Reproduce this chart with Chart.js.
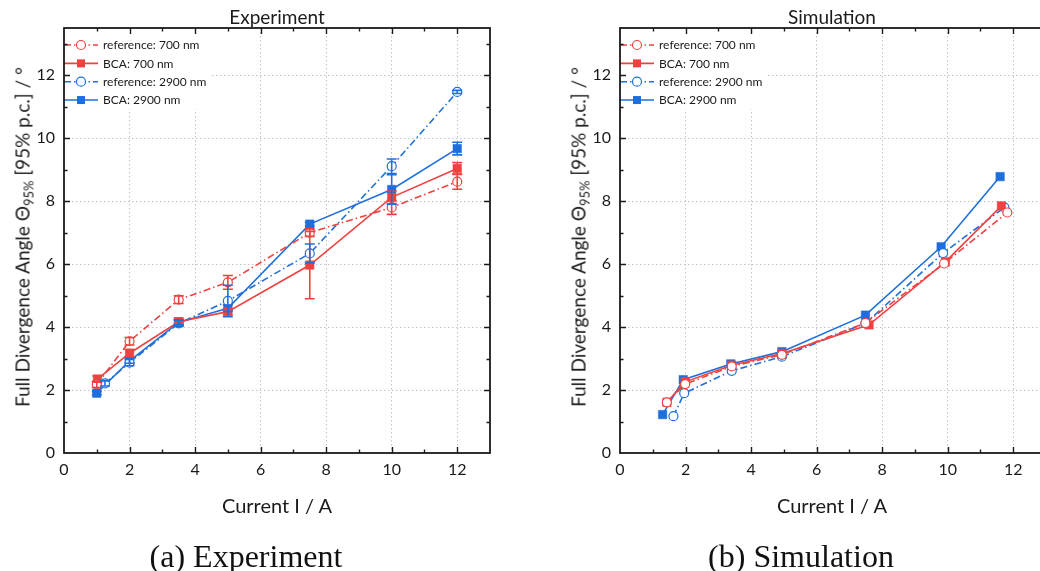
<!DOCTYPE html>
<html><head><meta charset="utf-8">
<script src="https://cdn.jsdelivr.net/npm/chart.js@4.4.1/dist/chart.umd.min.js"></script>
<style>
html,body{margin:0;padding:0;width:1040px;height:571px;overflow:hidden;background:#fff;}
body{position:relative;font-family:Lato,"Noto Sans",sans-serif;color:#1a1a1a;}
canvas{position:absolute;top:0;}
.t{position:absolute;transform:translate(-50%,-50%);white-space:nowrap;line-height:1;}
.title{font-size:19px;}
.xl{font-size:20px;}
.yl{font-size:19px;transform:translate(-50%,-50%) rotate(-90deg);}
.yl sub{font-size:68%;vertical-align:-0.3em;line-height:0;}
.cap{font-family:"Liberation Serif","DejaVu Serif",serif;font-size:32px;color:#111;}
</style></head>
<body>
<canvas id="c1" width="520" height="500" style="left:0;width:520px;height:500px"></canvas>
<canvas id="c2" width="520" height="500" style="left:556px;width:520px;height:500px"></canvas>
<div class="t title" style="left:277px;top:16px">Experiment</div>
<div class="t title" style="left:832px;top:16px">Simulation</div>
<div class="t xl" style="left:277px;top:505px">Current I / A</div>
<div class="t xl" style="left:832px;top:505px">Current I / A</div>
<div class="t yl" style="left:22px;top:237px">Full Divergence Angle Θ<sub>95%</sub> [95% p.c.] / °</div>
<div class="t yl" style="left:578px;top:237px">Full Divergence Angle Θ<sub>95%</sub> [95% p.c.] / °</div>
<div class="t cap" style="left:246px;top:556px">(a) Experiment</div>
<div class="t cap" style="left:801px;top:556px">(b) Simulation</div>
<script>
// ---- data ----
const xTicks = [0, 2, 4, 6, 8, 10, 12];
const yTicks = [0, 2, 4, 6, 8, 10, 12];
const seriesLabels = ['reference: 700 nm', 'BCA: 700 nm', 'reference: 2900 nm', 'BCA: 2900 nm'];

// Experiment
const expRef700X = [1, 2, 3.5, 5, 7.5, 10, 12];
const expRef700Y = [2.18, 3.55, 4.87, 5.42, 7.0, 7.8, 8.62];
const expRef700Err = [0.1, 0.12, 0.12, 0.22, 0.12, 0.22, 0.24];
const expBca700X = [1.02, 2, 3.5, 5, 7.5, 10, 12];
const expBca700Y = [2.35, 3.17, 4.17, 4.49, 5.97, 8.12, 9.04];
const expBca700Err = [0.1, 0.12, 0.12, 0.1, 1.07, 0.2, 0.19];
const expRef2900X = [1.25, 2, 3.5, 5, 7.5, 10, 12];
const expRef2900Y = [2.21, 2.87, 4.12, 4.83, 6.34, 9.11, 11.47];
const expRef2900Err = [0.08, 0.1, 0.1, 0.5, 0.3, 0.23, 0.05];
const expBca2900X = [1, 2, 3.5, 5, 7.5, 10, 12];
const expBca2900Y = [1.9, 2.93, 4.15, 4.6, 7.27, 8.37, 9.67];
const expBca2900Err = [0.05, 0.08, 0.08, 0.1, 0.06, 0.47, 0.2];

// Simulation
const simRef700X = [1.43, 1.99, 3.41, 4.94, 7.49, 9.89, 11.82];
const simRef700Y = [1.61, 2.19, 2.75, 3.12, 4.13, 6.02, 7.64];
const simBca700X = [1.43, 1.99, 3.41, 4.94, 7.6, 9.93, 11.64];
const simBca700Y = [1.61, 2.26, 2.79, 3.16, 4.07, 6.07, 7.85];
const simRef2900X = [1.63, 1.96, 3.41, 4.94, 7.49, 9.86, 11.73];
const simRef2900Y = [1.17, 1.9, 2.61, 3.06, 4.12, 6.35, 7.8];
const simBca2900X = [1.3, 1.93, 3.38, 4.94, 7.49, 9.8, 11.6];
const simBca2900Y = [1.22, 2.33, 2.83, 3.22, 4.38, 6.55, 8.78];

// ---- styling ----
const RED = '#f04141';
const BLUE = '#1e6fdc';
const DASHDOT = [7, 3, 1.5, 3];
const seriesStyle = [
  {color: RED, ref: true},
  {color: RED, ref: false},
  {color: BLUE, ref: true},
  {color: BLUE, ref: false}
];

function makeDataset(i, xs, ys) {
  const s = seriesStyle[i];
  return {
    label: seriesLabels[i],
    data: xs.map((x, k) => ({x: x, y: ys[k]})),
    borderColor: s.color,
    backgroundColor: s.ref ? '#ffffff' : s.color,
    borderWidth: 1.6,
    borderDash: s.ref ? DASHDOT : [],
    pointStyle: s.ref ? 'circle' : 'rect',
    pointRadius: s.ref ? 4.5 : 6,
    pointHoverRadius: s.ref ? 4.5 : 6,
    pointBorderWidth: s.ref ? 1.2 : 0.5,
    pointBorderColor: s.color,
    pointBackgroundColor: s.ref ? '#ffffff' : s.color,
    tension: 0,
    fill: false
  };
}

const decoPlugin = {
  id: 'deco',
  beforeDatasetsDraw(chart, args, opts) {
    const {ctx, chartArea: a} = chart;
    ctx.save();
    ctx.font = '12px Lato, "Noto Sans", sans-serif';
    let maxW = 0;
    seriesLabels.forEach(l => { maxW = Math.max(maxW, ctx.measureText(l).width); });
    const sx0 = a.left, sx1 = a.left + 34, mx = a.left + 17, tx = a.left + 39;
    ctx.fillStyle = '#ffffff';
    ctx.fillRect(a.left + 1, a.top + 1, tx + maxW + 3 - a.left, 80);
    seriesLabels.forEach((l, i) => {
      const s = seriesStyle[i];
      const yy = a.top + 17 + i * 18.35;
      ctx.strokeStyle = s.color;
      ctx.lineWidth = 1.6;
      ctx.setLineDash(s.ref ? DASHDOT : []);
      ctx.beginPath(); ctx.moveTo(sx0, yy); ctx.lineTo(sx1, yy); ctx.stroke();
      ctx.setLineDash([]);
      if (s.ref) {
        ctx.fillStyle = '#ffffff';
        ctx.lineWidth = 1.2;
        ctx.beginPath(); ctx.arc(mx, yy, 4.5, 0, Math.PI * 2); ctx.fill(); ctx.stroke();
      } else {
        ctx.fillStyle = s.color;
        ctx.fillRect(mx - 4, yy - 4, 8, 8);
      }
      ctx.fillStyle = '#1a1a1a';
      ctx.textBaseline = 'middle';
      ctx.textAlign = 'left';
      ctx.fillText(l, tx, yy + 0.5);
    });
    ctx.restore();
  },
  afterDatasetsDraw(chart, args, opts) {
    const errs = opts.errors;
    if (!errs) return;
    const {ctx, scales: {x, y}} = chart;
    ctx.save();
    chart.data.datasets.forEach((ds, i) => {
      const e = errs[i];
      if (!e) return;
      ctx.strokeStyle = seriesStyle[i].color;
      ctx.lineWidth = 1.6;
      ctx.setLineDash([]);
      ds.data.forEach((p, k) => {
        const px = x.getPixelForValue(p.x);
        const y1 = y.getPixelForValue(p.y - e[k]);
        const y2 = y.getPixelForValue(p.y + e[k]);
        ctx.beginPath();
        ctx.moveTo(px, y1); ctx.lineTo(px, y2);
        ctx.moveTo(px - 5, y1); ctx.lineTo(px + 5, y1);
        ctx.moveTo(px - 5, y2); ctx.lineTo(px + 5, y2);
        ctx.stroke();
      });
    });
    ctx.restore();
  },
  afterDraw(chart) {
    const {ctx, chartArea: a, scales: {x, y}} = chart;
    ctx.save();
    ctx.strokeStyle = '#1a1a1a';
    ctx.lineWidth = 1.4;
    ctx.setLineDash([]);
    ctx.beginPath();
    for (let v = 1; v < 13; v++) {
      const len = v % 2 === 0 ? 6 : 3.5;
      const px = Math.round(x.getPixelForValue(v)) + 0.5;
      ctx.moveTo(px, a.bottom); ctx.lineTo(px, a.bottom - len);
      ctx.moveTo(px, a.top); ctx.lineTo(px, a.top + len);
    }
    for (let v = 1; v <= 13; v++) {
      const len = v % 2 === 0 ? 6 : 3.5;
      const py = Math.round(y.getPixelForValue(v)) + 0.5;
      ctx.moveTo(a.left, py); ctx.lineTo(a.left + len, py);
      ctx.moveTo(a.right, py); ctx.lineTo(a.right - len, py);
    }
    ctx.stroke();
    ctx.lineWidth = 1.8;
    ctx.strokeRect(a.left, a.top, a.right - a.left, a.bottom - a.top);
    ctx.restore();
  }
};

function makeChart(id, datasets, errors) {
  const tickFont = {family: 'Lato, "Noto Sans", sans-serif', size: 16};
  const gridColor = c => (c.tick && c.tick.value === 0) ? 'rgba(0,0,0,0)' : '#c4c4c4';
  return new Chart(document.getElementById(id), {
    type: 'line',
    data: {datasets: datasets},
    options: {
      responsive: false,
      animation: false,
      devicePixelRatio: 1,
      layout: {padding: {top: 28, right: 30, left: 0, bottom: 0}},
      plugins: {legend: {display: false}, title: {display: false}, tooltip: {enabled: false}, deco: {errors: errors}},
      scales: {
        x: {
          type: 'linear', min: 0, max: 13,
          afterFit: s => { s.height = 47; },
          afterBuildTicks: s => { s.ticks = xTicks.map(v => ({value: v})); },
          ticks: {padding: 7, font: tickFont, color: '#1a1a1a', maxRotation: 0, autoSkip: false},
          grid: {color: gridColor, lineWidth: 1, drawTicks: false},
          border: {display: false, dash: [1.5, 2.5]}
        },
        y: {
          type: 'linear', min: 0, max: 13.5,
          afterFit: s => { s.width = 64; },
          afterBuildTicks: s => { s.ticks = yTicks.map(v => ({value: v})); },
          ticks: {padding: 9, font: tickFont, color: '#1a1a1a', autoSkip: false},
          grid: {color: gridColor, lineWidth: 1, drawTicks: false},
          border: {display: false, dash: [1.5, 2.5]}
        }
      }
    },
    plugins: [decoPlugin]
  });
}

makeChart('c1', [
  makeDataset(0, expRef700X, expRef700Y),
  makeDataset(1, expBca700X, expBca700Y),
  makeDataset(2, expRef2900X, expRef2900Y),
  makeDataset(3, expBca2900X, expBca2900Y)
], [expRef700Err, expBca700Err, expRef2900Err, expBca2900Err]);

makeChart('c2', [
  makeDataset(0, simRef700X, simRef700Y),
  makeDataset(1, simBca700X, simBca700Y),
  makeDataset(2, simRef2900X, simRef2900Y),
  makeDataset(3, simBca2900X, simBca2900Y)
], null);
</script>
</body></html>
